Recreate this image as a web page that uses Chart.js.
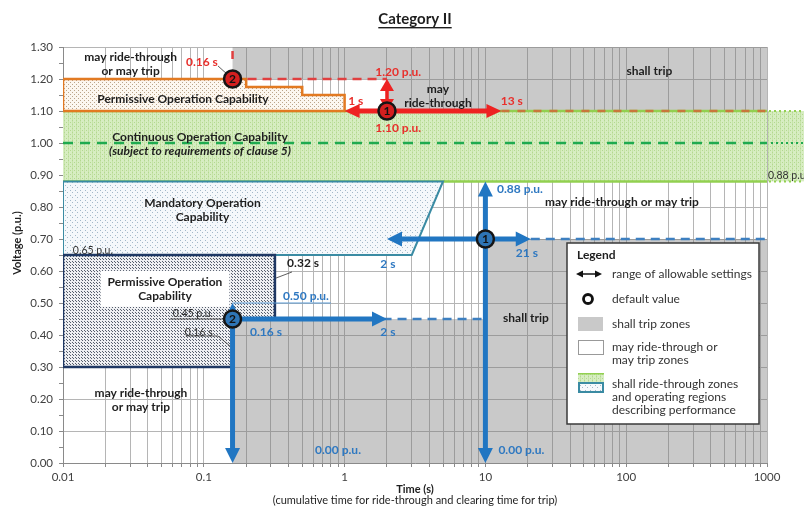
<!DOCTYPE html>
<html>
<head>
<meta charset="utf-8">
<script src="https://cdn.jsdelivr.net/npm/chart.js@4.4.1/dist/chart.umd.min.js"></script>
<style>
  html, body { margin: 0; padding: 0; background: #fff; }
  canvas { display: block; }
</style>
</head>
<body>
<canvas id="chart" width="804" height="506"></canvas>
<script>
// Axis ticks
const xTickValues = [0.01, 0.1, 1, 10, 100, 1000];
const xDecades = [0.01, 0.1, 1, 10, 100];
const xMultiples = [1, 2, 3, 4, 5, 6, 7, 8, 9];
const yTickValues = [0, 0.05, 0.10, 0.15, 0.20, 0.25, 0.30, 0.35, 0.40, 0.45, 0.50, 0.55, 0.60, 0.65,
  0.70, 0.75, 0.80, 0.85, 0.90, 0.95, 1.00, 1.05, 1.10, 1.15, 1.20, 1.25, 1.30];

// Zones: [time (s), voltage (p.u.)]
const shallTripHigh = [[0.16, 1.30], [0.16, 1.20], [2, 1.20], [2, 1.10], [1000, 1.10], [1000, 1.30]];
const shallTripLow = [[0.16, 0], [0.16, 0.45], [10, 0.45], [10, 0.70], [1000, 0.70], [1000, 0]];
const continuousZone = [[0.01, 0.88], [0.01, 1.10], [1000, 1.10], [1000, 0.88]];
const permissiveHigh = [[0.01, 1.10], [0.01, 1.20], [0.2, 1.20], [0.2, 1.175], [0.5, 1.175], [0.5, 1.15], [1, 1.15], [1, 1.10]];
const mandatoryZone = [[0.01, 0.65], [0.01, 0.88], [5, 0.88], [3, 0.65]];
const permissiveLow = [[0.01, 0.30], [0.01, 0.65], [0.32, 0.65], [0.32, 0.45], [0.16, 0.45], [0.16, 0.30]];

// OV1 / OV2 settings (red)
const ov1Time = [1, 13];
const ov1Volt = [1.10, 1.20];
const ov1Default = [2, 1.10];
const ov2Default = [0.16, 1.20];
const ov2Line = [[0.16, 1.20], [2, 1.20]];
const ov2Tick = [[0.16, 1.20], [0.16, 1.30]];
const ov1Tail = [[13, 1.10], [1000, 1.10]];

// UV1 / UV2 settings (blue)
const uv1Time = [2, 21];
const uv1Volt = [0, 0.88];
const uv1Default = [10, 0.70];
const uv1Tail = [[21, 0.70], [1000, 0.70]];
const uv2Time = [0.16, 2];
const uv2Volt = [0, 0.50];
const uv2Default = [0.16, 0.45];
const uv2Line = [[0.16, 0.45], [10, 0.45]];

const nominalLine = [[0.01, 1.00], [1000, 1.00]];

// label leaders
const leaders = [
  [[0.126, 1.241], [0.149, 1.212]],
  [[0.0575, 0.45], [0.16, 0.45]],
  [[0.0745, 0.397], [0.126, 0.397], [0.153, 0.366]],
  [[0.423, 0.597], [0.326, 0.578]],
];
const uv2Leader = [[0.16, 0.50], [0.8, 0.50]];

// text notes [time, voltage]
const notes = [
  {text: ['may ride-through', 'or may trip'], x: 0.0302, y: 1.248, style: 'dark'},
  {text: ['0.16 s'], x: 0.097, y: 1.254, style: 'red'},
  {text: ['Permissive Operation Capability'], x: 0.0711, y: 1.1375, style: 'dark'},
  {text: ['1.20 p.u.'], x: 2.4, y: 1.221, style: 'red'},
  {text: ['may', 'ride-through'], x: 4.6, y: 1.148, style: 'dark'},
  {text: ['1 s'], x: 1.2, y: 1.131, style: 'red'},
  {text: ['13 s'], x: 15.4, y: 1.131, style: 'red'},
  {text: ['1.10 p.u.'], x: 2.4, y: 1.048, style: 'red'},
  {text: ['shall trip'], x: 146, y: 1.225, style: 'dark'},
  {text: ['Continuous Operation Capability'], x: 0.094, y: 1.019, style: 'dark'},
  {text: ['(subject to requirements of clause 5)'], x: 0.094, y: 0.975, style: 'italic'},
  {text: ['0.88 p.u.'], x: 1409, y: 0.897, style: 'small'},
  {text: ['Mandatory Operation', 'Capability'], x: 0.0978, y: 0.791, style: 'dark'},
  {text: ['0.65 p.u.'], x: 0.0163, y: 0.6625, style: 'small'},
  {text: ['0.88 p.u.'], x: 17.6, y: 0.856, style: 'blue'},
  {text: ['may ride-through or may trip'], x: 93.3, y: 0.816, style: 'dark'},
  {text: ['2 s'], x: 2.03, y: 0.62, style: 'blue'},
  {text: ['21 s'], x: 19.7, y: 0.656, style: 'blue'},
  {text: ['0.32 s'], x: 0.507, y: 0.626, style: 'dark'},
  {text: ['Permissive Operation', 'Capability'], x: 0.053, y: 0.544, style: 'dark', boxed: true},
  {text: ['0.50 p.u.'], x: 0.532, y: 0.52, style: 'blue'},
  {text: ['0.45 p.u.'], x: 0.0837, y: 0.4656, style: 'small'},
  {text: ['0.16 s'], x: 0.092, y: 0.406, style: 'small'},
  {text: ['0.16 s'], x: 0.2766, y: 0.409, style: 'blue'},
  {text: ['2 s'], x: 2.03, y: 0.409, style: 'blue'},
  {text: ['shall trip'], x: 19.4, y: 0.453, style: 'dark'},
  {text: ['may ride-through', 'or may trip'], x: 0.0358, y: 0.198, style: 'dark'},
  {text: ['0.00 p.u.'], x: 0.898, y: 0.0406, style: 'blue'},
  {text: ['0.00 p.u.'], x: 18.0, y: 0.0406, style: 'blue'},
];

const legendItems = ['range of allowable settings', 'default value', 'shall trip zones',
  'may ride-through or', 'may trip zones', 'shall ride-through zones', 'and operating regions', 'describing performance'];

const FONT = 'Lato, "DejaVu Sans", sans-serif';
const RED = '#ee2222';
const BLUE = '#2176c2';
const noteFonts = {
  dark: 'bold 12px ' + FONT, red: 'bold 12px ' + FONT, blue: 'bold 12px ' + FONT,
  italic: 'italic bold 12px ' + FONT, small: '10.5px ' + FONT,
};
const noteColors = {dark: '#1e1e1e', red: '#e8302c', blue: '#2e78c1', italic: '#1e1e1e', small: '#333'};

function dotPattern(bg, dot, size, stripe) {
  const c = document.createElement('canvas');
  c.width = size; c.height = size;
  const g = c.getContext('2d');
  g.fillStyle = bg; g.fillRect(0, 0, size, size);
  if (stripe) { g.fillStyle = stripe; g.fillRect(0, 0, 1, size); }
  g.fillStyle = dot;
  g.fillRect(0, 0, 1, 1);
  g.fillRect(Math.floor(size / 2), Math.floor(size / 2), 1, 1);
  return g.createPattern(c, 'repeat');
}
const greenFill = dotPattern('#d7edc2', '#b3d890', 4, '#c6e4a8');
const orangeFill = dotPattern('#fcf7f0', '#bba58a', 4);
const tealFill = dotPattern('#f5f8fb', '#a4b9c9', 5);
const navyFill = dotPattern('#eeeff2', '#555d6c', 3);

function pts(list) { return list.map(p => ({x: p[0], y: p[1]})); }
function closed(list) { return pts(list.concat([list[0]])); }
function line(data, color, width, dash) {
  return {data: pts(data), showLine: true, borderColor: color, borderWidth: width, borderDash: dash || [], pointRadius: 0, fill: false};
}
function zone(data, fillStyle, border, width) {
  return {data: closed(data), showLine: true, fill: 'shape', backgroundColor: fillStyle,
    borderColor: border || 'rgba(0,0,0,0)', borderWidth: width || 0, pointRadius: 0};
}
function arrow(a, b, style) {
  return {data: pts([a, b]), showLine: false, pointRadius: 0, arrowStyle: style};
}
function marker(p, fillColor, label) {
  return {data: pts([p]), pointRadius: 8.5, pointBackgroundColor: fillColor, pointBorderColor: '#151515',
    pointBorderWidth: 2.5, markerText: label};
}

const redArrow = {color: RED, width: 5, head: 15, half: 7, start: true, end: true};
const redArrowV = {color: RED, width: 3.5, head: 12, half: 7, start: true, end: true};
const blueArrow = {color: BLUE, width: 5, head: 15, half: 7.5, start: true, end: true};
const blueArrowEnd = {color: BLUE, width: 5, head: 15, half: 7.5, start: false, end: true};
const blueArrowSmall = {color: BLUE, width: 2.5, head: 9, half: 4.5, start: false, end: true};

const datasets = [
  zone(shallTripHigh, 'rgba(120,120,120,0.40)'),
  zone(shallTripLow, 'rgba(120,120,120,0.40)'),
  zone(continuousZone, greenFill),
  line(nominalLine, '#1faa50', 2.5, [10, 7]),
  line([continuousZone[1], continuousZone[2]], '#92d050', 2.5),
  line([continuousZone[0], continuousZone[3]], '#92d050', 2.5),
  zone(permissiveHigh, orangeFill, '#e27a22', 2.5),
  zone(mandatoryZone, tealFill, '#3a8ba3', 2),
  zone(permissiveLow, navyFill, '#1f3864', 2.5),
  line(ov2Line, '#e04040', 2.5, [9, 6]),
  line(ov2Tick, '#e04040', 2.5, [8, 12]),
  line(ov1Tail, '#c9773c', 2.5, [8, 8]),
  line(uv1Tail, '#3d7fc0', 2.5, [9, 6]),
  line(uv2Line, '#3d7fc0', 2.5, [9, 6]),
  line(uv2Leader, '#5b9bd5', 1),
  ...leaders.map(l => line(l, '#333', 0.8)),
  arrow([ov1Time[0], ov1Default[1]], [ov1Time[1], ov1Default[1]], redArrow),
  arrow([ov1Default[0], ov1Volt[0]], [ov1Default[0], ov1Volt[1]], redArrowV),
  arrow([uv1Default[0], uv1Volt[0]], [uv1Default[0], uv1Volt[1]], blueArrow),
  arrow([uv1Time[0], uv1Default[1]], [uv1Time[1], uv1Default[1]], blueArrow),
  arrow([uv2Default[0], uv2Default[1]], [uv2Default[0], uv2Volt[0]], blueArrowEnd),
  arrow([uv2Default[0], uv2Default[1]], [uv2Default[0], uv2Volt[1]], blueArrowSmall),
  arrow([uv2Time[0], uv2Default[1]], [uv2Time[1], uv2Default[1]], blueArrowEnd),
  marker(ov1Default, '#d41f1f', '1'),
  marker(ov2Default, '#d41f1f', '2'),
  marker(uv1Default, '#2e75b6', '1'),
  marker(uv2Default, '#2e75b6', '2'),
];
// first in the list is painted first
datasets.forEach((d, i) => { d.order = datasets.length - i; });

function arrowHead(ctx, x, y, ang, len, half) {
  const c = Math.cos(ang), s = Math.sin(ang);
  ctx.beginPath();
  ctx.moveTo(x, y);
  ctx.lineTo(x - len * c + half * s, y - len * s - half * c);
  ctx.lineTo(x - len * c - half * s, y - len * s + half * c);
  ctx.closePath();
  ctx.fill();
}

function drawArrow(ctx, x1, y1, x2, y2, st) {
  const ang = Math.atan2(y2 - y1, x2 - x1);
  const c = Math.cos(ang), s = Math.sin(ang);
  const k = st.head * 0.8;
  ctx.save();
  ctx.strokeStyle = st.color;
  ctx.fillStyle = st.color;
  ctx.lineWidth = st.width;
  ctx.beginPath();
  ctx.moveTo(x1 + (st.start ? c * k : 0), y1 + (st.start ? s * k : 0));
  ctx.lineTo(x2 - (st.end ? c * k : 0), y2 - (st.end ? s * k : 0));
  ctx.stroke();
  if (st.end) arrowHead(ctx, x2, y2, ang, st.head, st.half);
  if (st.start) arrowHead(ctx, x1, y1, ang + Math.PI, st.head, st.half);
  ctx.restore();
}

function drawLegend(ctx) {
  const L = 567, T = 243, W = 192, H = 181;
  ctx.save();
  ctx.fillStyle = '#fff';
  ctx.fillRect(L, T, W, H);
  ctx.strokeStyle = '#3a3a3a';
  ctx.lineWidth = 1.5;
  ctx.strokeRect(L, T, W, H);
  ctx.textAlign = 'left';
  ctx.textBaseline = 'middle';
  ctx.fillStyle = '#1e1e1e';
  ctx.font = 'bold 12px ' + FONT;
  ctx.fillText('Legend', L + 10, T + 12);
  drawArrow(ctx, L + 9, T + 31, L + 35, T + 31, {color: '#111', width: 1.5, head: 7, half: 3.5, start: true, end: true});
  ctx.beginPath();
  ctx.arc(L + 21, T + 56, 4.5, 0, Math.PI * 2);
  ctx.lineWidth = 2.8;
  ctx.strokeStyle = '#111';
  ctx.stroke();
  ctx.fillStyle = '#c9c9c9';
  ctx.fillRect(L + 11, T + 74, 25, 14);
  ctx.fillStyle = '#fff';
  ctx.fillRect(L + 11, T + 97, 25, 14);
  ctx.lineWidth = 1;
  ctx.strokeStyle = '#999';
  ctx.strokeRect(L + 11.5, T + 97.5, 25, 14);
  ctx.fillStyle = greenFill;
  ctx.fillRect(L + 11, T + 130, 26, 9);
  ctx.fillStyle = '#92d050';
  ctx.fillRect(L + 11, T + 130, 26, 1.5);
  ctx.fillStyle = tealFill;
  ctx.fillRect(L + 11, T + 140, 26, 9);
  ctx.lineWidth = 2;
  ctx.strokeStyle = '#3a8ba3';
  ctx.strokeRect(L + 12, T + 140, 24, 9);
  ctx.fillStyle = '#333';
  ctx.font = '12px ' + FONT;
  const ys = [31, 56, 81, 104, 117, 141, 154, 167];
  legendItems.forEach((t, i) => ctx.fillText(t, L + 45, T + ys[i]));
  ctx.restore();
}

const notesPlugin = {
  id: 'notes',
  afterDatasetDraw(chart, args) {
    const ds = chart.data.datasets[args.index];
    const ctx = chart.ctx;
    const p = args.meta.data;
    if (ds.arrowStyle) drawArrow(ctx, p[0].x, p[0].y, p[1].x, p[1].y, ds.arrowStyle);
    if (ds.markerText) {
      ctx.save();
      ctx.font = 'bold 12px ' + FONT;
      ctx.fillStyle = '#111';
      ctx.textAlign = 'center';
      ctx.textBaseline = 'middle';
      ctx.fillText(ds.markerText, p[0].x, p[0].y + 0.5);
      ctx.restore();
    }
  },
  afterDatasetsDraw(chart) {
    const {ctx, scales: {x, y}} = chart;
    ctx.save();
    // continuous zone runs on past the last tick
    const xe = x.getPixelForValue(1000), yt = y.getPixelForValue(continuousZone[1][1]), yb = y.getPixelForValue(continuousZone[0][1]);
    ctx.fillStyle = greenFill;
    ctx.fillRect(xe + 1, yt, chart.width - xe, yb - yt);
    ctx.lineWidth = 2;
    ctx.setLineDash([2, 3]);
    ctx.strokeStyle = '#92d050';
    [yt, yb].forEach(v => { ctx.beginPath(); ctx.moveTo(xe + 2, v); ctx.lineTo(chart.width, v); ctx.stroke(); });
    ctx.strokeStyle = '#1faa50';
    const yn = y.getPixelForValue(nominalLine[0][1]);
    ctx.beginPath(); ctx.moveTo(xe + 4, yn); ctx.lineTo(chart.width, yn); ctx.stroke();
    ctx.setLineDash([]);

    ctx.textBaseline = 'middle';
    notes.forEach(n => {
      ctx.font = noteFonts[n.style];
      ctx.textAlign = 'center';
      const px = x.getPixelForValue(n.x), py = y.getPixelForValue(n.y);
      if (n.boxed) {
        const w = Math.max(...n.text.map(t => ctx.measureText(t).width)) + 14;
        const h = n.text.length * 14 + 8;
        ctx.fillStyle = '#fff';
        ctx.fillRect(px - w / 2, py - h / 2, w, h);
      }
      ctx.fillStyle = noteColors[n.style];
      n.text.forEach((t, i) => ctx.fillText(t, px, py + (i - (n.text.length - 1) / 2) * 14));
    });

    // titles
    const cx = (chart.chartArea.left + chart.chartArea.right) / 2;
    ctx.fillStyle = '#1e1e1e';
    ctx.font = 'bold 15px ' + FONT;
    ctx.fillText('Category II', cx, 19);
    const tw = ctx.measureText('Category II').width;
    ctx.fillRect(cx - tw / 2, 27, tw, 1.4);
    ctx.font = 'bold 11px ' + FONT;
    ctx.fillText('Time (s)', cx, 489);
    ctx.font = '11px ' + FONT;
    ctx.fillText('(cumulative time for ride-through and clearing time for trip)', cx, 500);
    ctx.translate(17, (chart.chartArea.top + chart.chartArea.bottom) / 2 - 12);
    ctx.rotate(-Math.PI / 2);
    ctx.font = 'bold 11px ' + FONT;
    ctx.fillText('Voltage (p.u.)', 0, 0);
    ctx.restore();
    drawLegend(ctx);
  }
};

const xGridValues = xDecades.flatMap(d => xMultiples.map(m => +(d * m).toPrecision(6))).concat([1000]);
const isMajorY = v => Math.round(v * 100) % 10 === 0;

new Chart(document.getElementById('chart'), {
  type: 'scatter',
  data: {datasets},
  options: {
    responsive: false,
    animation: false,
    devicePixelRatio: 1,
    events: [],
    layout: {padding: {left: 0, right: 37, top: 47, bottom: 0}},
    plugins: {legend: {display: false}, tooltip: {enabled: false}, title: {display: false}},
    scales: {
      x: {
        type: 'logarithmic', min: 0.01, max: 1000,
        afterBuildTicks: s => { s.ticks = xGridValues.map(v => ({value: v})); },
        afterFit: s => { s.height = 43; },
        ticks: {autoSkip: false, maxRotation: 0, padding: 3, color: '#404040', font: {family: FONT, size: 11.5},
          callback: v => xTickValues.includes(v) ? String(v) : ''},
        grid: {color: '#b5b5b5', tickColor: '#8a8a8a', tickLength: 4},
        border: {color: '#8a8a8a'}
      },
      y: {
        min: 0, max: 1.3,
        afterBuildTicks: s => { s.ticks = yTickValues.map(v => ({value: v})); },
        afterFit: s => { s.width = 63; },
        ticks: {autoSkip: false, padding: 6, color: '#404040', font: {family: FONT, size: 11.5},
          callback: v => isMajorY(v) ? v.toFixed(2) : ''},
        grid: {color: c => isMajorY(c.tick.value) ? '#b5b5b5' : 'rgba(0,0,0,0)', tickColor: '#8a8a8a', tickLength: 4},
        border: {color: '#8a8a8a'}
      }
    }
  },
  plugins: [notesPlugin]
});
</script>
</body>
</html>
